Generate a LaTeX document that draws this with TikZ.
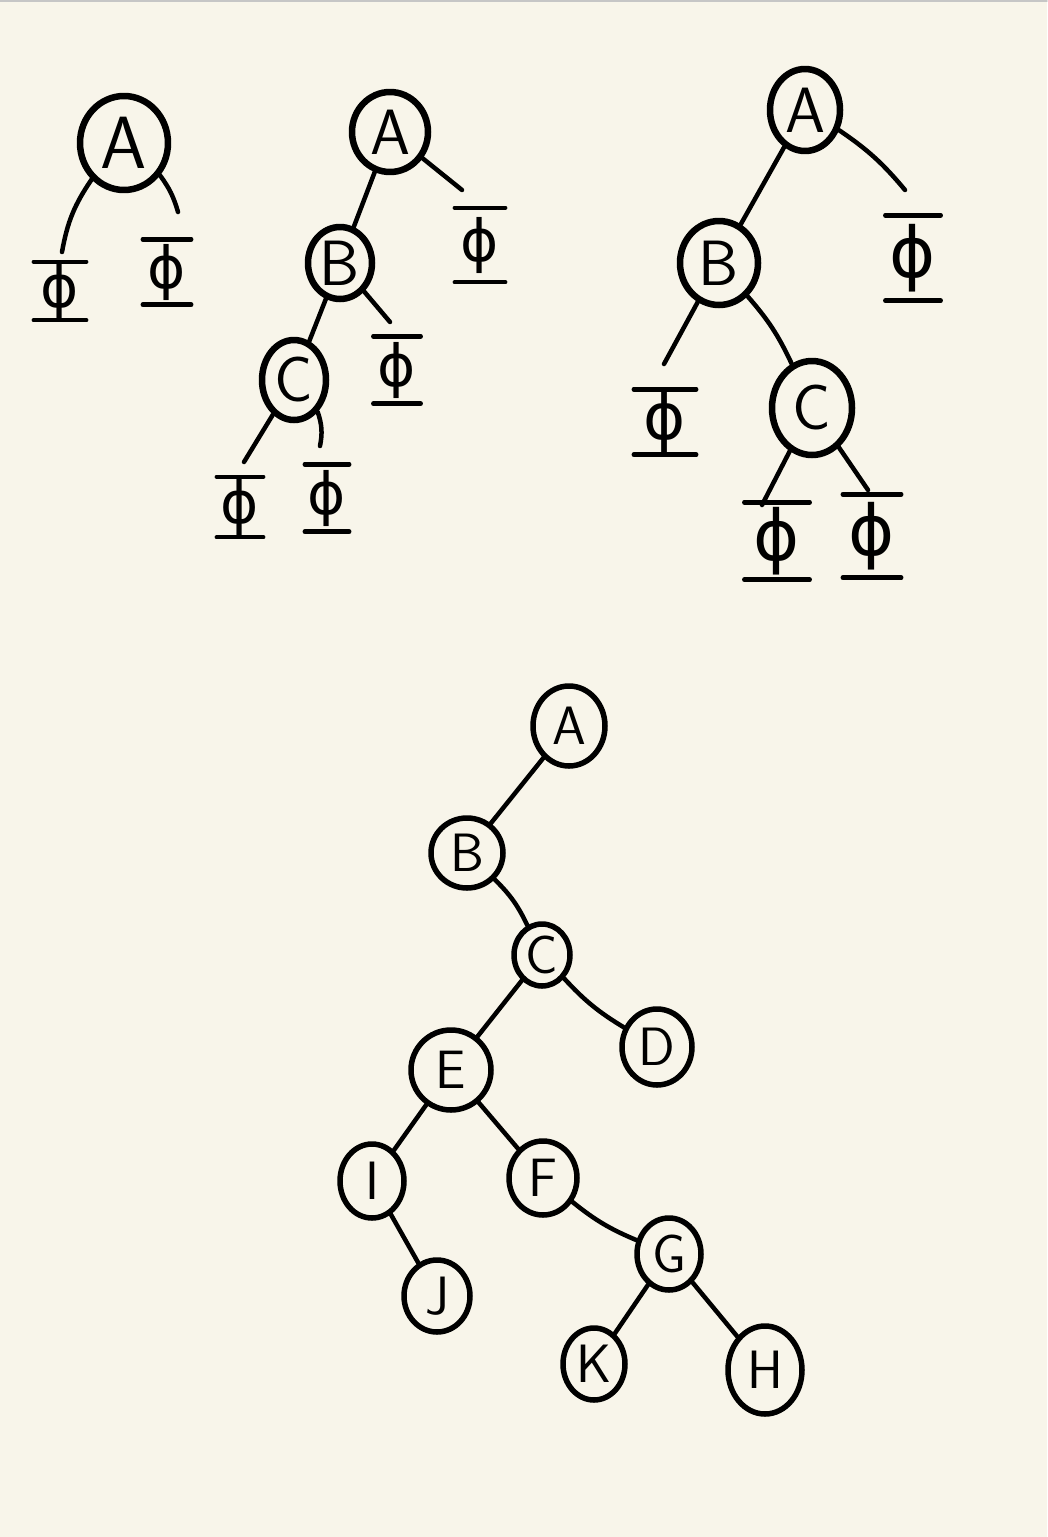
\documentclass[tikz,border=0pt]{standalone}
\usepackage{fontspec}
\newfontfamily\phifont{DejaVu Sans}
\usetikzlibrary{shapes.geometric}
\definecolor{paper}{HTML}{F8F5EA}
\begin{document}
\begin{tikzpicture}[x=1pt,y=-1pt,line cap=round,line join=round,
  nd/.style={ellipse,draw,line width=6.5pt,inner sep=0pt},
  ndbig/.style={nd,font=\sffamily\fontsize{74}{74}\selectfont},
  ndmid/.style={nd,font=\sffamily\fontsize{64}{64}\selectfont},
  ndsm/.style={nd,line width=5.5pt,font=\sffamily\fontsize{54}{54}\selectfont},
  nil/.style={inner sep=0pt,font=\phifont\fontsize{#1}{#1}\selectfont},
  nil/.default=58,
  edge/.style={line width=4.5pt},
  edgesm/.style={line width=4.5pt},
  bar/.style={line width=4.5pt}]
\fill[paper] (0,0) rectangle (1047,1537);
\useasboundingbox (0,0) rectangle (1047,1537);
\draw[gray!45,line width=1.5pt] (0,0.75) -- (1047,0.75);

% ---------- tree 1 ----------
\node[ndbig,minimum width=88pt,minimum height=94pt] (t1a) at (124,143) {A};
\coordinate (e11) at (62,252);
\coordinate (e12) at (178,212);
\draw[edge] (t1a) to[bend right=12] (e11);
\draw[edge] (t1a) to[bend left=10] (e12);
\node[nil,minimum width=52pt,minimum height=58pt] (n11) at (60,291) {ϕ};
\node[nil,minimum width=48pt,minimum height=65pt] (n12) at (167,272) {ϕ};

% ---------- tree 2 ----------
\node[ndmid,minimum width=76pt,minimum height=80pt] (t2a) at (390,132) {A};
\node[ndmid,minimum width=64pt,minimum height=72pt] (t2b) at (340,263) {B};
\node[ndmid,minimum width=64pt,minimum height=80pt] (t2c) at (294,380) {C};
\coordinate (e21) at (462,190);
\coordinate (e22) at (390,322);
\coordinate (e23) at (244,462);
\coordinate (e24) at (320,446);
\draw[edge] (t2a) -- (t2b);
\draw[edge] (t2b) -- (t2c);
\draw[edge] (t2a) -- (e21);
\draw[edge] (t2b) -- (e22);
\draw[edge] (t2c) -- (e23);
\draw[edge] (t2c) to[bend left=15] (e24);
\node[nil,minimum width=50pt,minimum height=74pt] (n21) at (480,245) {ϕ};
\node[nil,minimum width=47pt,minimum height=67pt] (n22) at (397,370) {ϕ};
\node[nil,minimum width=46pt,minimum height=60pt] (n23) at (240,507) {ϕ};
\node[nil,minimum width=44pt,minimum height=67pt] (n24) at (327,498) {ϕ};

% ---------- tree 3 ----------
\node[ndmid,minimum width=70pt,minimum height=82pt] (t3a) at (805,110) {A};
\node[ndmid,minimum width=78pt,minimum height=84pt] (t3b) at (719,263) {B};
\node[ndmid,minimum width=80pt,minimum height=94pt] (t3c) at (812,408) {C};
\coordinate (e31) at (905,190);
\coordinate (e32) at (664,364);
\coordinate (e33) at (762,505);
\coordinate (e34) at (868,490);
\draw[edge] (t3a) -- (t3b);
\draw[edge] (t3b) to[bend left=8] (t3c);
\draw[edge] (t3a) to[bend left=8] (e31);
\draw[edge] (t3b) -- (e32);
\draw[edge] (t3c) -- (e33);
\draw[edge] (t3c) -- (e34);
\node[nil=70,minimum width=55pt,minimum height=85pt] (n31) at (913,258) {ϕ};
\node[nil=64,minimum width=62pt,minimum height=65pt] (n32) at (665,422) {ϕ};
\node[nil=70,minimum width=65pt,minimum height=77pt] (n33) at (777,541) {ϕ};
\node[nil=70,minimum width=58pt,minimum height=83pt] (n34) at (872,536) {ϕ};

\foreach \n in {n11,n12,n21,n22,n23,n24,n31,n32,n33,n34}
  \draw[bar] (\n.north west) -- (\n.north east) (\n.south west) -- (\n.south east);

% ---------- tree 4 ----------
\node[ndsm,minimum width=72pt,minimum height=80pt] (A) at (569,726) {A};
\node[ndsm,minimum width=72pt,minimum height=70pt] (B) at (467,853) {B};
\node[ndsm,minimum width=56pt,minimum height=62pt] (C) at (542,955) {C};
\node[ndsm,minimum width=70pt,minimum height=76pt] (D) at (657,1047) {D};
\node[ndsm,minimum width=80pt,minimum height=80pt] (E) at (451,1070) {E};
\node[ndsm,minimum width=64pt,minimum height=74pt] (I) at (372,1181) {I};
\node[ndsm,minimum width=66pt,minimum height=72pt] (J) at (437,1296) {J};
\node[ndsm,minimum width=68pt,minimum height=74pt] (F) at (543,1178) {F};
\node[ndsm,minimum width=64pt,minimum height=72pt] (G) at (669,1254) {G};
\node[ndsm,minimum width=62pt,minimum height=72pt] (K) at (594,1364) {K};
\node[ndsm,minimum width=74pt,minimum height=88pt] (H) at (765,1370) {H};
\draw[edgesm] (A) -- (B);
\draw[edgesm] (B) to[bend left=10] (C);
\draw[edgesm] (C) -- (E);
\draw[edgesm] (C) to[bend right=8] (D);
\draw[edgesm] (E) -- (I);
\draw[edgesm] (E) -- (F);
\draw[edgesm] (I) -- (J);
\draw[edgesm] (F) to[bend right=8] (G);
\draw[edgesm] (G) -- (K);
\draw[edgesm] (G) -- (H);
\end{tikzpicture}
\end{document}
